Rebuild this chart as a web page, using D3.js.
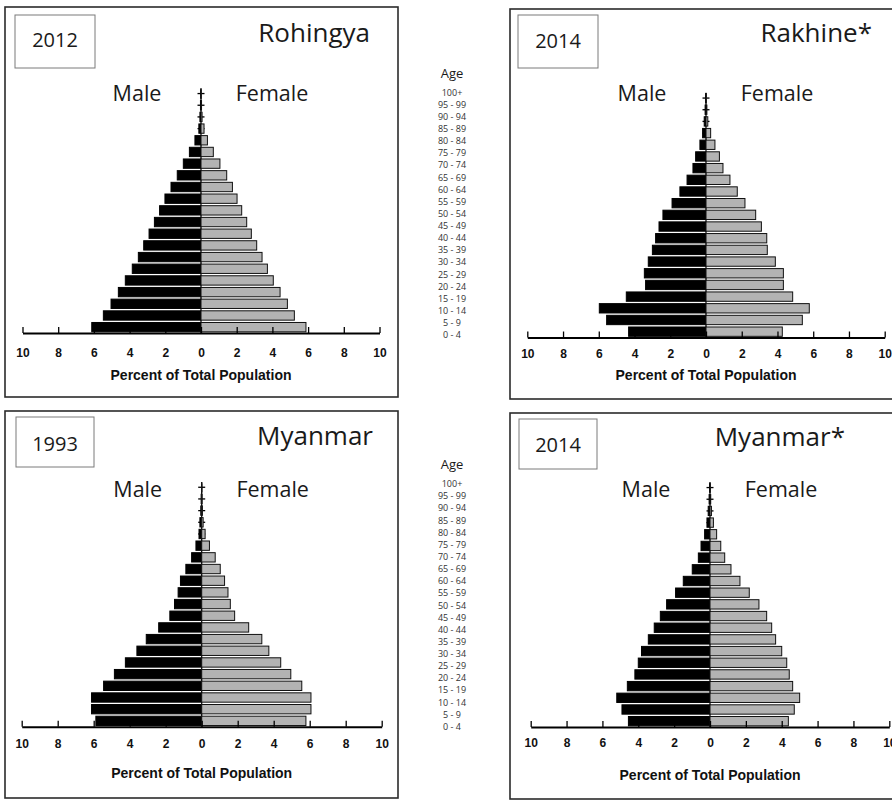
<!DOCTYPE html>
<html>
<head>
<meta charset="utf-8">
<script src="https://cdn.jsdelivr.net/npm/d3@7"></script>
<style>
  html, body { margin: 0; padding: 0; background: #fff; }
  svg { display: block; }
</style>
</head>
<body>
<svg id="chart" width="892" height="800"></svg>
<script>
// Age groups, youngest first (bottom of each pyramid)
const ageGroups = ["0 - 4", "5 - 9", "10 - 14", "15 - 19", "20 - 24", "25 - 29", "30 - 34",
  "35 - 39", "40 - 44", "45 - 49", "50 - 54", "55 - 59", "60 - 64", "65 - 69", "70 - 74",
  "75 - 79", "80 - 84", "85 - 89", "90 - 94", "95 - 99", "100+"];

// Percent of total population in each age group
const rohingyaMale   = [6.12, 5.47, 5.04, 4.63, 4.24, 3.85, 3.51, 3.21, 2.91, 2.61, 2.32, 2.02, 1.68, 1.33, 0.99, 0.65, 0.34, 0.12, 0.06, 0.03, 0.01];
const rohingyaFemale = [5.88, 5.23, 4.84, 4.43, 4.05, 3.72, 3.42, 3.12, 2.82, 2.56, 2.28, 2.02, 1.76, 1.44, 1.06, 0.69, 0.36, 0.17, 0.06, 0.03, 0.01];

const rakhineMale    = [4.33, 5.56, 5.97, 4.46, 3.38, 3.45, 3.23, 3.00, 2.82, 2.63, 2.41, 1.90, 1.46, 1.06, 0.73, 0.58, 0.34, 0.19, 0.10, 0.05, 0.02];
const rakhineFemale  = [4.27, 5.39, 5.78, 4.85, 4.33, 4.33, 3.88, 3.43, 3.40, 3.10, 2.78, 2.18, 1.75, 1.34, 0.95, 0.75, 0.50, 0.26, 0.10, 0.05, 0.02];

const myanmar1993Male   = [5.88, 6.12, 6.12, 5.45, 4.85, 4.24, 3.60, 3.08, 2.39, 1.77, 1.51, 1.31, 1.18, 0.88, 0.56, 0.32, 0.15, 0.10, 0.05, 0.03, 0.01];
const myanmar1993Female = [5.79, 6.07, 6.07, 5.56, 4.95, 4.39, 3.73, 3.34, 2.61, 1.83, 1.59, 1.46, 1.27, 1.03, 0.75, 0.43, 0.19, 0.08, 0.04, 0.02, 0.01];

const myanmar2014Male   = [4.55, 4.91, 5.20, 4.61, 4.19, 4.00, 3.82, 3.44, 3.11, 2.77, 2.42, 1.92, 1.49, 0.99, 0.65, 0.50, 0.30, 0.17, 0.10, 0.05, 0.02];
const myanmar2014Female = [4.37, 4.70, 5.00, 4.61, 4.42, 4.28, 4.00, 3.66, 3.44, 3.16, 2.73, 2.19, 1.67, 1.17, 0.82, 0.60, 0.37, 0.19, 0.08, 0.04, 0.02];

// Axis ticks (signed: males to the left)
const xTicks = [-10, -8, -6, -4, -2, 0, 2, 4, 6, 8, 10];

const panelYears  = ["2012", "2014", "1993", "2014"];
const panelTitles = ["Rohingya", "Rakhine*", "Myanmar", "Myanmar*"];
const panelMale   = [rohingyaMale, rakhineMale, myanmar1993Male, myanmar2014Male];
const panelFemale = [rohingyaFemale, rakhineFemale, myanmar1993Female, myanmar2014Female];

// Panel geometry
const layout = [
  { box: [5, 7, 393, 390],   yearBox: [15, 15, 80, 53],   yearY: 47,  titleX: 370, titleY: 42,  cx: 201,   half: 178.5, axisY: 333,   sexY: 101, tickY: 24,   xlabelY: 380 },
  { box: [510, 9, 400, 390], yearBox: [518, 15, 80, 53],  yearY: 48,  titleX: 872, titleY: 42,  cx: 706,   half: 178.7, axisY: 337.5, sexY: 101, tickY: 20.5, xlabelY: 380 },
  { box: [5, 411, 393, 387], yearBox: [16, 417, 78, 50],  yearY: 451, titleX: 373, titleY: 445, cx: 201.7, half: 180,   axisY: 726.7, sexY: 497, tickY: 21.3, xlabelY: 778 },
  { box: [510, 413, 400, 386], yearBox: [519, 419, 78, 50], yearY: 452, titleX: 845, titleY: 446, cx: 710, half: 179.3, axisY: 727,   sexY: 497, tickY: 20,   xlabelY: 780 }
];

const ageColumns = [
  { x: 452, headY: 78,  top: 92.5, bottom: 335 },
  { x: 452, headY: 469, top: 484,  bottom: 726.7 }
];

const rowStep = 11.68;
const sansFont = "'Open Sans', 'Noto Sans', sans-serif";
const boldFont = "'Liberation Sans', Arial, sans-serif";

const svg = d3.select("#chart");

layout.forEach((L, i) => {
  const g = svg.append("g");
  const male = panelMale[i], female = panelFemale[i];
  const rows = ageGroups.map((age, k) => ({ age, male: male[k], female: female[k] }));

  // frame
  g.append("rect")
    .attr("x", L.box[0]).attr("y", L.box[1])
    .attr("width", L.box[2]).attr("height", L.box[3])
    .attr("fill", "none").attr("stroke", "#2b2b2b").attr("stroke-width", 1.6);

  // year box
  g.append("rect")
    .attr("x", L.yearBox[0]).attr("y", L.yearBox[1])
    .attr("width", L.yearBox[2]).attr("height", L.yearBox[3])
    .attr("fill", "none").attr("stroke", "#7a7a7a").attr("stroke-width", 1);
  g.append("text")
    .attr("x", L.yearBox[0] + L.yearBox[2] / 2).attr("y", L.yearY)
    .attr("text-anchor", "middle")
    .attr("font-family", sansFont).attr("font-size", 20).attr("fill", "#1a1a1a")
    .text(panelYears[i]);

  // title
  g.append("text")
    .attr("x", L.titleX).attr("y", L.titleY)
    .attr("text-anchor", "end")
    .attr("font-family", sansFont).attr("font-size", 26).attr("fill", "#1a1a1a")
    .text(panelTitles[i]);

  // scales
  const x = d3.scaleLinear().domain([-10, 10]).range([L.cx - L.half, L.cx + L.half]);
  const y = d3.scaleBand()
    .domain(ageGroups)
    .range([L.axisY, L.axisY - ageGroups.length * rowStep])
    .paddingInner(0.2).paddingOuter(0.1);

  // sex labels
  g.append("text")
    .attr("x", L.cx - 64).attr("y", L.sexY).attr("text-anchor", "middle")
    .attr("font-family", sansFont).attr("font-size", 21.5).attr("fill", "#1a1a1a")
    .text("Male");
  g.append("text")
    .attr("x", L.cx + 71).attr("y", L.sexY).attr("text-anchor", "middle")
    .attr("font-family", sansFont).attr("font-size", 21.5).attr("fill", "#1a1a1a")
    .text("Female");

  // vertical age axis with small cross ticks
  const yTop = L.axisY - ageGroups.length * rowStep + 2;
  g.append("line")
    .attr("x1", x(0)).attr("x2", x(0))
    .attr("y1", yTop).attr("y2", L.axisY)
    .attr("stroke", "#000").attr("stroke-width", 1.2);
  g.append("g").selectAll("line").data(rows).join("line")
    .attr("x1", x(0) - 3.5).attr("x2", x(0) + 3.5)
    .attr("y1", d => y(d.age) + y.bandwidth() / 2)
    .attr("y2", d => y(d.age) + y.bandwidth() / 2)
    .attr("stroke", "#000").attr("stroke-width", 1.3);

  // male bars
  g.append("g").selectAll("rect").data(rows).join("rect")
    .attr("x", d => x(-d.male)).attr("y", d => y(d.age))
    .attr("width", d => x(0) - x(-d.male)).attr("height", y.bandwidth())
    .attr("fill", "#000").attr("stroke", "#000").attr("stroke-width", 1);

  // female bars
  g.append("g").selectAll("rect").data(rows).join("rect")
    .attr("x", x(0)).attr("y", d => y(d.age))
    .attr("width", d => x(d.female) - x(0)).attr("height", y.bandwidth())
    .attr("fill", "#b3b3b3").attr("stroke", "#111").attr("stroke-width", 1);

  // horizontal axis
  const axis = d3.axisBottom(x)
    .tickValues(xTicks)
    .tickSizeInner(-6).tickSizeOuter(0)
    .tickFormat(d => Math.abs(d));
  const ag = g.append("g").attr("transform", `translate(0,${L.axisY})`).call(axis);
  ag.select(".domain").attr("stroke", "#000").attr("stroke-width", 2);
  ag.selectAll(".tick line").attr("stroke", "#000").attr("stroke-width", 1.3);
  ag.selectAll(".tick text")
    .attr("y", L.tickY).attr("dy", 0)
    .attr("font-family", boldFont).attr("font-weight", "bold")
    .attr("font-size", 12).attr("fill", "#111");

  g.append("text")
    .attr("x", L.cx).attr("y", L.xlabelY).attr("text-anchor", "middle")
    .attr("font-family", boldFont).attr("font-weight", "bold")
    .attr("font-size", 14).attr("fill", "#111")
    .text("Percent of Total Population");
});

// shared age-group label columns between the pyramids
ageColumns.forEach(C => {
  const ly = d3.scalePoint().domain(ageGroups).range([C.bottom, C.top]);
  svg.append("text")
    .attr("x", C.x).attr("y", C.headY).attr("text-anchor", "middle")
    .attr("font-family", sansFont).attr("font-size", 13).attr("fill", "#1a1a1a")
    .text("Age");
  svg.append("g").selectAll("text").data(ageGroups).join("text")
    .attr("x", C.x).attr("y", d => ly(d)).attr("dy", "0.35em")
    .attr("text-anchor", "middle")
    .attr("font-family", sansFont).attr("font-size", 9).attr("fill", "#333")
    .text(d => d);
});
</script>
</body>
</html>
